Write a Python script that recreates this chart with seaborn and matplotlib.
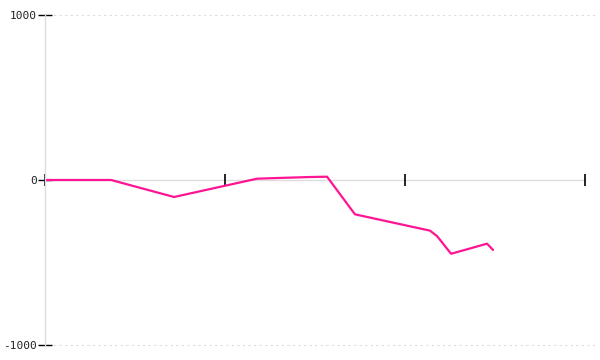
import matplotlib
matplotlib.use("Agg")
import matplotlib.pyplot as plt
import seaborn as sns
import pandas as pd

x_vals = [0.0, 0.367, 0.717, 1.178, 1.289, 1.472, 1.567, 1.722, 2.139, 2.178, 2.256, 2.456, 2.489]
y_vals = [0, 0, -103, 8, 12, 18, 20, -208, -307, -340, -447, -386, -424]
x_ticks = [0, 1, 2, 3]
y_ticks = [-1000, 0, 1000]

df = pd.DataFrame({"x": x_vals, "y": y_vals})

sns.set_theme(style="white")
plt.rcParams["font.family"] = ["DejaVu Sans Mono", "DejaVu Sans"]

fig = plt.figure(figsize=(6, 3.6), dpi=100)
ax = fig.add_axes([45/600, 1 - 345/360, 540/600, 330/360])

sns.lineplot(data=df, x="x", y="y", ax=ax, color="#ff1493", linewidth=1.6, sort=False)

ax.set_xlim(0, 3)
ax.set_ylim(-1000, 1000)
ax.set_xticks(x_ticks)
ax.set_xticklabels([])
ax.set_yticks(y_ticks)
ax.set_yticklabels([str(v) for v in y_ticks])
ax.set_xlabel("")
ax.set_ylabel("")

for v in (1000, -1000):
    ax.axhline(v, xmin=0.005, xmax=1.02, color="#dddddd", linestyle=(0, (2, 3)), linewidth=0.8, clip_on=False, zorder=0)

ax.spines["top"].set_visible(False)
ax.spines["right"].set_visible(False)
ax.spines["left"].set_color("#dddddd")
ax.spines["left"].set_linewidth(1.0)
ax.spines["bottom"].set_position(("data", 0))
ax.spines["bottom"].set_color("#dddddd")
ax.spines["bottom"].set_linewidth(1.0)
ax.spines["bottom"].set_zorder(0)

ax.tick_params(axis="x", direction="inout", length=9, width=1.2, color="black", bottom=True)
ax.tick_params(axis="y", direction="inout", length=10, width=1.0, color="black", left=True,
               labelsize=8, labelcolor="#222222", pad=1)

fig.savefig("out.png", dpi=100)
